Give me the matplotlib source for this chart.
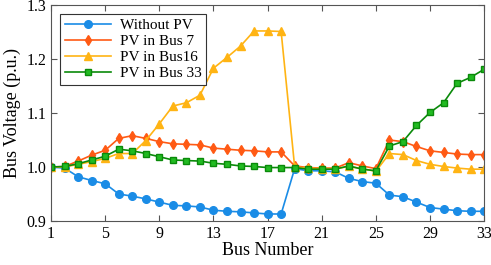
import numpy as np
import matplotlib
matplotlib.use('Agg')
import matplotlib.pyplot as plt

plt.rcParams['font.family'] = 'Liberation Serif'

# Bus voltage data
bus = list(range(1, 34))
without_pv = [1.000, 0.998, 0.982, 0.975, 0.969, 0.950, 0.946, 0.941, 0.935, 0.929,
              0.928, 0.926, 0.920, 0.918, 0.917, 0.915, 0.913, 0.913, 0.997, 0.993,
              0.993, 0.991, 0.979, 0.973, 0.970, 0.948, 0.945, 0.935, 0.925, 0.922,
              0.919, 0.918, 0.918]
pv_bus7 = [1.000, 1.001, 1.011, 1.022, 1.031, 1.053, 1.058, 1.053, 1.047, 1.043,
           1.042, 1.041, 1.035, 1.033, 1.031, 1.030, 1.028, 1.028, 1.002, 0.999,
           0.998, 0.998, 1.008, 1.002, 0.997, 1.050, 1.047, 1.038, 1.030, 1.027,
           1.024, 1.023, 1.023]
pv_bus16 = [1.000, 1.000, 1.005, 1.010, 1.016, 1.025, 1.025, 1.049, 1.080, 1.113,
            1.119, 1.133, 1.183, 1.203, 1.224, 1.252, 1.252, 1.251, 1.000, 0.998,
            0.997, 0.997, 1.001, 0.997, 0.992, 1.025, 1.023, 1.012, 1.005, 1.001,
            0.998, 0.996, 0.996]
pv_bus33 = [1.000, 1.001, 1.006, 1.013, 1.020, 1.033, 1.030, 1.025, 1.019, 1.013,
            1.012, 1.011, 1.007, 1.005, 1.002, 1.001, 0.999, 0.999, 0.999, 0.996,
            0.996, 0.996, 1.002, 0.996, 0.993, 1.039, 1.047, 1.077, 1.101, 1.119,
            1.155, 1.166, 1.181]

fig = plt.figure(figsize=(4.91, 2.65), dpi=100)
ax = fig.add_axes([0.104, 0.166, 0.882, 0.815])

ax.plot(bus, without_pv, '-o', color='#1a8ce6', mfc='#1a8ce6', mec='#1a8ce6',
        ms=5.5, lw=1.2, label='Without PV')
ax.plot(bus, pv_bus7, '-d', color='#ff5a14', mfc='#ff5a14', mec='#ff5a14',
        ms=5.5, lw=1.2, label='PV in Bus 7')
ax.plot(bus, pv_bus16, '-^', color='#ffb414', mfc='#ffb414', mec='#ffb414',
        ms=5.5, lw=1.2, label='PV in Bus16')
ax.plot(bus, pv_bus33, '-s', color='#0a8a0a', mfc='#22bb22', mec='#0a8a0a',
        ms=4.5, lw=1.2, label='PV in Bus 33')

ax.set_xlim(1, 33)
ax.set_ylim(0.9, 1.3)
ax.set_xticks(np.arange(1, 34, 4))
ax.set_yticks([0.9, 1.0, 1.1, 1.2, 1.3])
ax.set_yticklabels(['0.9', '1.0', '1.1', '1.2', '1.3'])
ax.tick_params(direction='in', top=True, right=True, labelsize=11.5,
               color='#555555', length=4, width=0.8)
for s in ax.spines.values():
    s.set_color('#555555')
    s.set_linewidth(0.8)

ax.set_xlabel('Bus Number', fontsize=13, labelpad=0)
ax.set_ylabel('Bus Voltage (p.u.)', fontsize=13, labelpad=4)

leg = ax.legend(loc='upper left', fontsize=11, fancybox=False, framealpha=1,
                edgecolor='#333333', borderpad=0.3, labelspacing=0.15,
                handlelength=3, handletextpad=0.6, borderaxespad=0.6)
leg.get_frame().set_linewidth(0.8)

plt.savefig('out.png', dpi=100)
